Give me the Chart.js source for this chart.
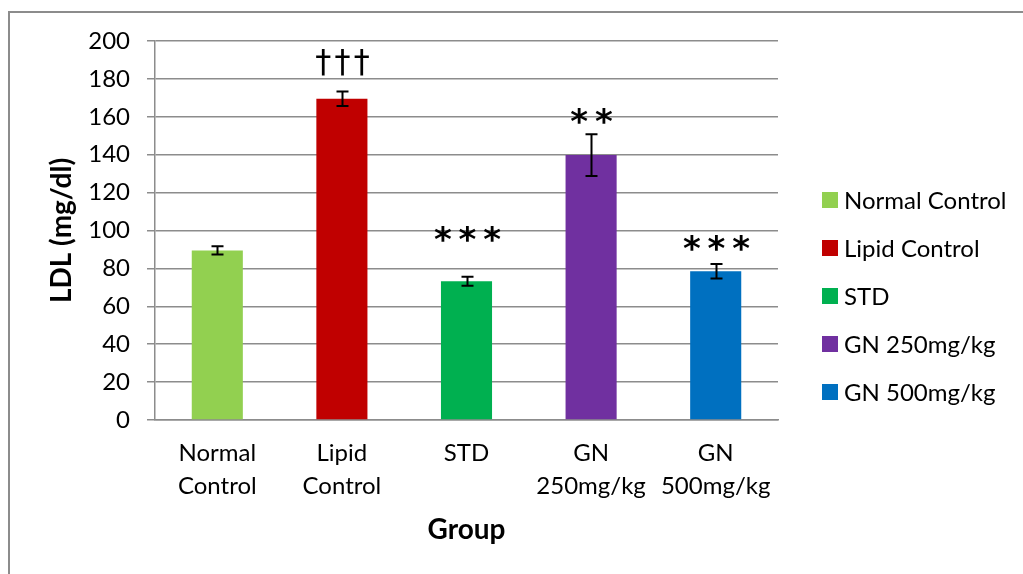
<!DOCTYPE html>
<html>
<head>
<meta charset="utf-8">
<script src="https://cdn.jsdelivr.net/npm/chart.js@4.4.1/dist/chart.umd.min.js"></script>
<style>
  html, body { margin: 0; padding: 0; background: #fff; }
  #wrap { position: relative; width: 1023px; height: 574px; overflow: hidden; }
  #frame { position: absolute; left: 8px; top: 11px; width: 1100px; height: 700px; border: 2px solid #8c8c8c; }
  #wrap canvas { position: absolute; left: 0; top: 0; }
</style>
</head>
<body>
<div id="wrap">
  <div id="frame"></div>
  <canvas id="chart" width="1023" height="574"></canvas>
</div>
<script>
// chart data
const groups = ['Normal Control', 'Lipid Control', 'STD', 'GN 250mg/kg', 'GN 500mg/kg'];
const tickLabels = [['Normal', 'Control'], ['Lipid', 'Control'], ['STD'], ['GN', '250mg/kg'], ['GN', '500mg/kg']];
const ldl = [89.5, 169.5, 73.2, 139.8, 78.5];
const sem = [2.2, 3.8, 2.4, 11.0, 3.8];
const marks = ['', '\u2020\u2020\u2020', '***', '**', '***'];
const markAt = [0, 188, 98, 160.5, 93.5];
const colors = ['#92D050', '#C00000', '#00B050', '#7030A0', '#0070C0'];

const FONT = 'Lato, "Open Sans", sans-serif';
const gridColor = '#8c8c8c';

// error bars + significance marks
const extras = {
  id: 'extras',
  afterDatasetsDraw(chart) {
    const ctx = chart.ctx;
    const meta = chart.getDatasetMeta(0);
    const y = chart.scales.y;
    ctx.save();
    ctx.strokeStyle = '#000';
    ctx.lineWidth = 2;
    meta.data.forEach((bar, i) => {
      const x = Math.round(bar.x) + 0.5;
      const hi = y.getPixelForValue(ldl[i] + sem[i]);
      const lo = y.getPixelForValue(ldl[i] - sem[i]);
      ctx.beginPath();
      ctx.moveTo(x, hi); ctx.lineTo(x, lo);
      ctx.moveTo(x - 6, hi); ctx.lineTo(x + 6, hi);
      ctx.moveTo(x - 6, lo); ctx.lineTo(x + 6, lo);
      ctx.stroke();

      if (marks[i]) {
        ctx.fillStyle = '#000';
        ctx.textAlign = 'center';
        ctx.textBaseline = 'middle';
        const ty = y.getPixelForValue(markAt[i]);
        if (marks[i].indexOf('*') >= 0) {
          ctx.font = 'bold 34px "DejaVu Sans"';
          ctx.fillText(marks[i].split('').join('\u2009'), x, ty + 8);
        } else {
          ctx.font = '32px "DejaVu Sans"';
          ctx.fillText(marks[i].split('').join('\u200a'), x, ty);
        }
      }
    });
    ctx.restore();
  }
};

// legend on the right, one entry per group
const sideLegend = {
  id: 'sideLegend',
  afterDraw(chart) {
    const ctx = chart.ctx;
    ctx.save();
    ctx.font = '24px ' + FONT;
    ctx.textBaseline = 'middle';
    ctx.textAlign = 'left';
    groups.forEach((g, i) => {
      const cy = 200 + i * 48;
      ctx.fillStyle = colors[i];
      ctx.fillRect(822, cy - 8, 16, 16);
      ctx.fillStyle = '#000';
      ctx.fillText(g, 844, cy + 1);
    });
    ctx.restore();
  }
};

new Chart(document.getElementById('chart'), {
  type: 'bar',
  data: {
    labels: tickLabels,
    datasets: [{
      label: 'LDL',
      data: ldl,
      backgroundColor: colors,
      borderWidth: 0,
      categoryPercentage: 1,
      barPercentage: 0.41
    }]
  },
  options: {
    responsive: false,
    animation: false,
    events: [],
    layout: { padding: { left: 0, top: 41, right: 245, bottom: 0 } },
    plugins: {
      legend: { display: false },
      tooltip: { enabled: false }
    },
    scales: {
      x: {
        afterFit(scale) { scale.height = 154; },
        grid: { display: false, drawTicks: false },
        border: { display: true, color: gridColor, width: 1.5 },
        ticks: {
          color: '#000',
          font: { family: FONT, size: 24, lineHeight: 1.38 },
          padding: 17,
          maxRotation: 0,
          autoSkip: false
        },
        title: {
          display: true,
          text: 'Group',
          color: '#000',
          font: { family: FONT, size: 28, weight: 'bold' },
          padding: { top: 27, bottom: 27 }
        }
      },
      y: {
        min: 0,
        max: 200,
        afterFit(scale) { scale.width = 155; },
        grid: { color: gridColor, lineWidth: 1.5, tickLength: 8, tickColor: gridColor },
        border: { display: true, color: gridColor, width: 1.5 },
        ticks: {
          stepSize: 20,
          color: '#000',
          font: { family: FONT, size: 24 },
          padding: 17
        },
        title: {
          display: true,
          text: 'LDL (mg/dl)',
          color: '#000',
          font: { family: FONT, size: 28, weight: 'bold' },
          padding: { top: 45, bottom: 45 }
        }
      }
    }
  },
  plugins: [extras, sideLegend]
});
</script>
</body>
</html>
